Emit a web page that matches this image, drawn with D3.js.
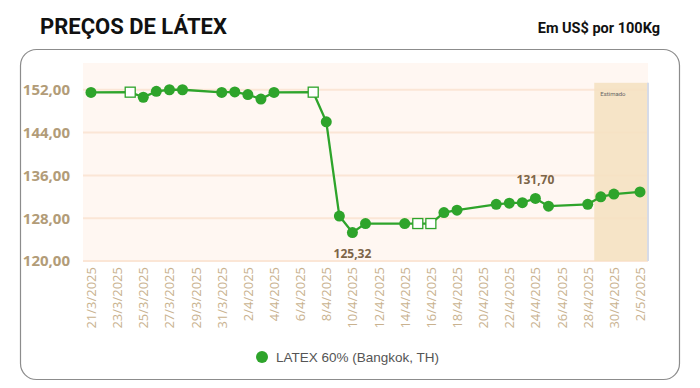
<!DOCTYPE html>
<html>
<head>
<meta charset="utf-8">
<script src="https://cdn.jsdelivr.net/npm/d3@7"></script>
<style>
  body { margin: 0; background: #fff; }
  svg { display: block; }
</style>
</head>
<body>
<svg id="chart" width="700" height="388"></svg>
<script>
// daily prices, LATEX 60% (Bangkok, TH) - US$ per 100Kg
const dates = ['2025-03-21','2025-03-24','2025-03-25','2025-03-26','2025-03-27','2025-03-28',
    '2025-03-31','2025-04-01','2025-04-02','2025-04-03','2025-04-04','2025-04-07',
    '2025-04-08','2025-04-09','2025-04-10','2025-04-11','2025-04-14','2025-04-15',
    '2025-04-16','2025-04-17','2025-04-18','2025-04-21','2025-04-22','2025-04-23',
    '2025-04-24','2025-04-25','2025-04-28','2025-04-29','2025-04-30','2025-05-02'];
const prices = [151.5, 151.55, 150.6, 151.7, 152.0, 152.0,
    151.5, 151.6, 151.1, 150.25, 151.5, 151.55,
    146.0, 128.4, 125.32, 127.0, 127.0, 127.0,
    127.0, 129.05, 129.5, 130.6, 130.8, 130.9,
    131.7, 130.25, 130.6, 132.0, 132.5, 132.9];
// hollow markers (no quote that day)
const hollow = ['2025-03-24','2025-04-07','2025-04-15','2025-04-16'];
const labelled = ['2025-04-10','2025-04-24'];
const tickDates = d3.timeDay.range(new Date(2025, 2, 21), new Date(2025, 4, 3), 1)
    .filter(function(d, i){ return i % 2 === 0; });
const yTicks = [120, 128, 136, 144, 152];
const estimatedFrom = new Date(2025, 3, 28, 12);

const parse = d3.timeParse('%Y-%m-%d');
let data = dates.map(function(d, i){
    return {date: parse(d), value: prices[i], hollow: hollow.indexOf(d) >= 0, label: labelled.indexOf(d) >= 0};
});

let svg = d3.select('#chart');
let plotLeft = 83, plotRight = 648, plotTop = 63, plotBottom = 261;

let x = d3.scaleTime()
    .domain([new Date(2025, 2, 21), new Date(2025, 4, 2)])
    .range([91, 640]);
let y = d3.scaleLinear().domain([120, 157]).range([plotBottom, plotTop]);

// titles
svg.append('text').attr('x', 40).attr('y', 34)
    .style('font-family', 'Roboto, sans-serif').style('font-weight', 'bold')
    .style('font-size', '22px').attr('fill', '#111').text('PREÇOS DE LÁTEX');
svg.append('text').attr('x', 660).attr('y', 33).attr('text-anchor', 'end')
    .style('font-family', 'Roboto, sans-serif').style('font-weight', 'bold')
    .style('font-size', '14.5px').attr('fill', '#111').text('Em US$ por 100Kg');

// frame
svg.append('rect').attr('x', 20.5).attr('y', 49.5).attr('width', 659).attr('height', 330)
    .attr('rx', 16).attr('fill', 'none').attr('stroke', '#8c8c8c').attr('stroke-width', 1.2);

// plot background
svg.append('rect').attr('x', plotLeft).attr('y', plotTop)
    .attr('width', plotRight - plotLeft).attr('height', plotBottom - plotTop + 1)
    .attr('fill', '#fff7f2');

// gridlines
svg.append('g').selectAll('line').data(yTicks).enter().append('line')
    .attr('x1', plotLeft).attr('x2', plotRight)
    .attr('y1', function(d){ return y(d); }).attr('y2', function(d){ return y(d); })
    .attr('stroke', '#fbe6d6').attr('stroke-width', 2);

// estimated band
svg.append('rect').attr('x', x(estimatedFrom)).attr('y', y(153.3))
    .attr('width', plotRight - x(estimatedFrom)).attr('height', plotBottom - y(153.3))
    .attr('fill', '#f5e1c2').attr('opacity', 0.9);
svg.append('line').attr('x1', plotRight).attr('x2', plotRight).attr('y1', y(153.3)).attr('y2', plotBottom)
    .attr('stroke', '#d6dbe8').attr('stroke-width', 2);
svg.append('text').attr('x', x(estimatedFrom) + 6).attr('y', y(153.3) + 13)
    .style('font-family', 'Roboto, sans-serif').style('font-size', '6px').attr('fill', '#666')
    .text('Estimado');

// y axis
let yAxis = svg.append('g').attr('transform', 'translate(70,0)')
    .call(d3.axisLeft(y).tickValues(yTicks).tickSize(0).tickPadding(0)
        .tickFormat(function(d){ return d3.format('.2f')(d).replace('.', ','); }));
yAxis.select('.domain').remove();
yAxis.selectAll('text').attr('fill', '#b29c78')
    .style('font-family', '"Open Sans", sans-serif').style('font-weight', 'bold').style('font-size', '15px');

// x axis
let xAxis = svg.append('g').attr('transform', 'translate(0,' + (plotBottom + 6) + ')')
    .call(d3.axisBottom(x).tickValues(tickDates).tickSize(0).tickPadding(0)
        .tickFormat(d3.timeFormat('%-d/%-m/%Y')));
xAxis.select('.domain').remove();
xAxis.selectAll('text')
    .attr('transform', 'rotate(-90)').attr('text-anchor', 'end')
    .attr('x', 0).attr('y', 0).attr('dx', 0).attr('dy', '0.35em')
    .attr('fill', '#c9b28f')
    .style('font-family', '"Open Sans", sans-serif').style('font-size', '13px');

// line
let line = d3.line()
    .x(function(d){ return x(d.date); })
    .y(function(d){ return y(d.value); });
svg.append('path').datum(data).attr('d', line)
    .attr('fill', 'none').attr('stroke', '#2ea42b').attr('stroke-width', 2.3);

// markers
svg.append('g').selectAll('circle').data(data.filter(function(d){ return !d.hollow; }))
    .enter().append('circle')
    .attr('cx', function(d){ return x(d.date); })
    .attr('cy', function(d){ return y(d.value); })
    .attr('r', 5.5).attr('fill', '#2ea42b');
svg.append('g').selectAll('rect').data(data.filter(function(d){ return d.hollow; }))
    .enter().append('rect')
    .attr('x', function(d){ return x(d.date) - 5; })
    .attr('y', function(d){ return y(d.value) - 5; })
    .attr('width', 10).attr('height', 10)
    .attr('fill', '#fff').attr('stroke', '#2ea42b').attr('stroke-width', 1.3);

// data labels
svg.append('g').selectAll('text').data(data.filter(function(d){ return d.label; }))
    .enter().append('text')
    .attr('x', function(d){ return x(d.date); })
    .attr('y', function(d, i){ return i === 0 ? y(d.value) + 25 : y(d.value) - 14; })
    .attr('text-anchor', 'middle')
    .style('font-family', '"Open Sans", sans-serif').style('font-weight', 'bold').style('font-size', '12px')
    .attr('fill', '#7d6548')
    .text(function(d){ return d3.format('.2f')(d.value).replace('.', ','); });

// legend
svg.append('circle').attr('cx', 262).attr('cy', 357).attr('r', 6).attr('fill', '#2ea42b');
svg.append('text').attr('x', 276).attr('y', 362)
    .style('font-family', '"Liberation Sans", Arial, sans-serif').style('font-size', '13.5px')
    .attr('fill', '#555').text('LATEX 60% (Bangkok, TH)');
</script>
</body>
</html>
